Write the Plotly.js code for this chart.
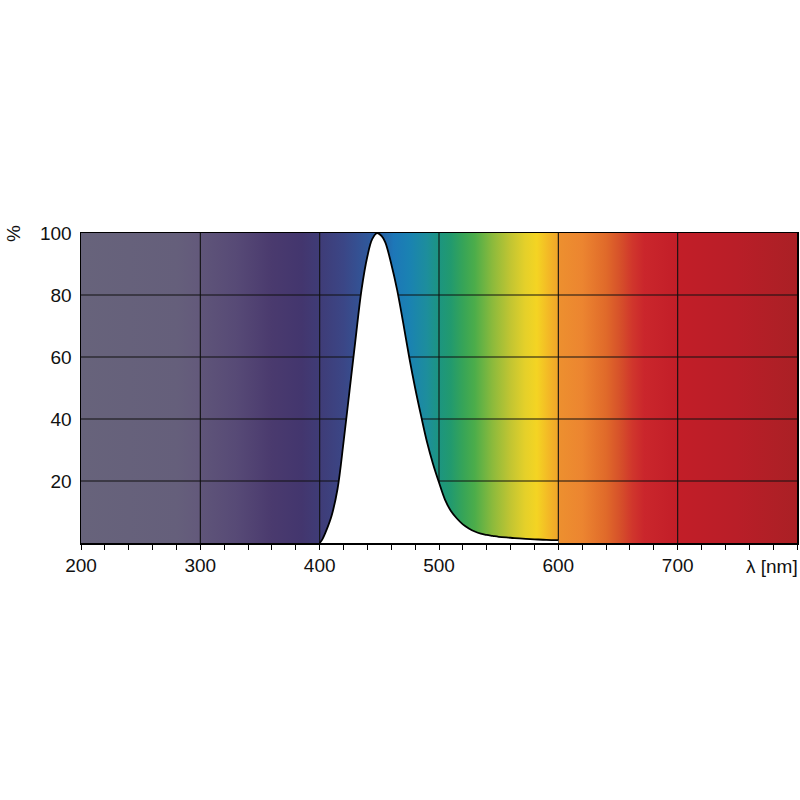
<!DOCTYPE html>
<html>
<head>
<meta charset="utf-8">
<script src="https://cdn.plot.ly/plotly-3.0.1.min.js"></script>
<style>html,body{margin:0;padding:0;background:#fff;}#chart{width:800px;height:800px;}</style>
</head>
<body>
<div id="chart"></div>
<script>
// Spectral curve (relative intensity, %)
const wavelength = [400,402,405,410,415,420,425,430,435,440,444,448,452,455,460,465,470,475,480,485,490,495,500,505,510,515,520,525,530,535,540,545,550,560,570,580,590,600];
const intensity  = [0,1,3.5,8.8,17.5,32.5,49,65.5,81.5,92.5,98,100,99,97,90,81.5,71,60,50,41,32.5,25.5,19.5,14,10.3,7.9,6.0,4.7,3.7,3.0,2.6,2.3,2.0,1.7,1.4,1.2,1.0,0.9];

// Background spectrum colour stops
const stopNm    = [200,280,299.9,300,330,360,385,400,420,440,455,462,475,490,500,510,520,530,545,560,572,582,592,599.9,600,620,640,652,662,672,700,750,800];
const stopColor = ['#67637b','#655f7b','#63597b','#5f5579','#574a76','#4a3a6e','#43366e','#3f3c77','#3b4686','#30579a','#2468aa','#1d77b8','#1a82b2','#1d8e9c','#1c9580','#229a6e','#36a458','#4cad4a','#8cba3c','#c2c532','#e4d02a','#f4d423','#f3b826','#f0a42a','#ed902f','#ec8530','#e06a2a','#d6502a','#d0362c','#ca262c','#c21e28','#b91e28','#aa2025'];

const xTicks = [200,300,400,500,600,700];
const yTicks = [20,40,60,80,100];
const xMin = 200, xMax = 800, yMin = 0, yMax = 100;

const colorscale = stopNm.map((nm,i)=>[(nm-xMin)/(xMax-xMin), stopColor[i]]);

// background gradient rectangle
const bg = {
  x:[xMin,xMax,xMax,xMin,xMin], y:[yMin,yMin,yMax,yMax,yMin],
  type:'scatter', mode:'none', fill:'toself',
  fillgradient:{type:'horizontal', colorscale:colorscale},
  hoverinfo:'skip', showlegend:false
};

// grid lines (drawn above background, below curve)
const gx=[], gy=[];
xTicks.slice(1).forEach(v=>{gx.push(v,v,null); gy.push(yMin,yMax,null);});
yTicks.slice(0,-1).forEach(v=>{gx.push(xMin,xMax,null); gy.push(v,v,null);});
const grid = {x:gx, y:gy, type:'scatter', mode:'lines', line:{color:'#111', width:1.1}, hoverinfo:'skip', showlegend:false};

const curve = {
  x: wavelength, y: intensity, type:'scatter', mode:'lines',
  line:{color:'#000', width:1.8, shape:'spline', smoothing:1},
  fill:'tozeroy', fillcolor:'#ffffff', showlegend:false
};

const font = {family:'"Liberation Sans", Arial, Helvetica, sans-serif', size:19, color:'#111'};

const layout = {
  width:800, height:800,
  margin:{l:81, r:3, t:233, b:257},
  paper_bgcolor:'#fff', plot_bgcolor:'#fff',
  font: font,
  showlegend:false,
  xaxis:{
    range:[xMin,xMax], tickvals:xTicks, ticktext:xTicks.map(String),
    showgrid:false, zeroline:false,
    showline:true, linecolor:'#000', linewidth:1.5, mirror:true,
    ticks:'outside', ticklen:5, tickcolor:'#000', tickwidth:1,
    minor:{dtick:20, tick0:200, ticks:'outside', ticklen:5, tickcolor:'#000', tickwidth:1, showgrid:false},
    tickfont:font, fixedrange:true
  },
  yaxis:{
    range:[yMin,yMax], tickvals:yTicks, ticktext:yTicks.map(String),
    showgrid:false, zeroline:false,
    showline:true, linecolor:'#000', linewidth:1.5, mirror:true,
    ticks:'', ticklabelstandoff:4,
    tickfont:font, fixedrange:true
  },
  annotations:[
    {text:'λ [nm]', xref:'paper', yref:'paper', x:0.965, y:0, yshift:-23, xanchor:'center', yanchor:'middle', showarrow:false, font:font},
    {text:'%', xref:'paper', yref:'paper', x:-0.095, y:1, xanchor:'center', yanchor:'middle', textangle:-90, showarrow:false, font:font}
  ]
};

Plotly.newPlot('chart',[bg,grid,curve],layout,{displayModeBar:false, staticPlot:true});
</script>
</body>
</html>
